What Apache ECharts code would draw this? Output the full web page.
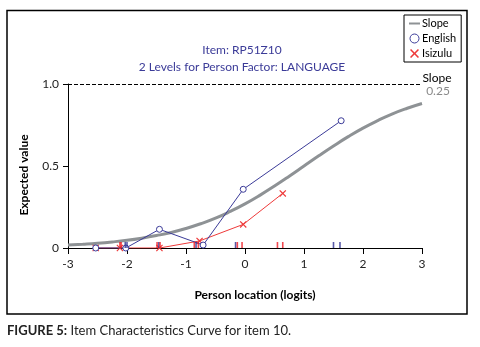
<!DOCTYPE html>
<html><head><meta charset="utf-8">
<script src="https://cdn.jsdelivr.net/npm/echarts@6/dist/echarts.min.js"></script>
<style>html,body{margin:0;padding:0;background:#fff}#c{width:480px;height:347px}</style>
</head><body><div id="c"></div>
<script>
const titleLines = ['Item: RP51Z10', '2 Levels for Person Factor: LANGUAGE'];
const caption = 'Item Characteristics Curve for item 10.';
const xTicks = [-3, -2, -1, 0, 1, 2, 3];
const slopeX = [-3,-2.75,-2.5,-2.25,-2,-1.75,-1.5,-1.25,-1,-0.75,-0.5,-0.25,0,0.25,0.5,0.75,1,1.25,1.5,1.75,2,2.25,2.5,2.75,3];
const slopeY = [0.018,0.023,0.029,0.037,0.047,0.060,0.076,0.095,0.119,0.148,0.182,0.223,0.269,0.321,0.378,0.438,0.500,0.562,0.622,0.679,0.731,0.777,0.818,0.852,0.881];
const englishX = [-2.53,-2.02,-1.45,-0.71,-0.03,1.63];
const englishY = [0,0,0.114,0.018,0.358,0.776];
const isizuluX = [-2.53,-2.12,-1.45,-0.77,-0.03,0.64];
const isizuluY = [0,0,0,0.043,0.144,0.333];
const englishRug = [-2.03,-2.0,-1.46,-0.83,-0.16,1.50,1.61];
const isizuluRug = [-2.12,-2.10,-1.49,-1.44,-0.86,-0.79,-0.13,-0.05,0.55,0.64];
const slopeValue = '0.25';

const FONT = 'Lato';
const BLUE = '#3b3b98', RED = '#ee3a3a', GRAY = '#8e9295';
const CROSS = 'path://M0,1.2L1.2,0L5,3.8L8.8,0L10,1.2L6.2,5L10,8.8L8.8,10L5,6.2L1.2,10L0,8.8L3.8,5Z';
const zip = (a, b) => a.map((v, i) => [v, b[i]]);

const chart = echarts.init(document.getElementById('c'), null, {renderer: 'canvas'});
chart.setOption({
  animation: false,
  textStyle: {fontFamily: FONT},
  grid: {left: 68, right: 58, top: 84, bottom: 99},
  title: {
    text: titleLines.join('\n'), left: 237, top: 37, textAlign: 'center',
    textStyle: {fontFamily: FONT, fontSize: 12, fontWeight: 'normal', color: BLUE, lineHeight: 17}
  },
  legend: {
    orient: 'vertical', left: 404, top: 15, padding: [3, 5, 3, 4], itemGap: 4,
    borderColor: '#000', borderWidth: 1, itemWidth: 11, itemHeight: 9,
    textStyle: {fontFamily: FONT, fontSize: 11, color: '#000', padding: [0, 0, 0, -3]},
    data: [
      {name: 'Slope', icon: 'inherit', itemStyle: {opacity: 0}},
      {name: 'English', icon: 'circle', lineStyle: {opacity: 0},
        itemStyle: {color: '#fff', borderColor: BLUE, borderWidth: 1}},
      {name: 'Isizulu', icon: CROSS, lineStyle: {opacity: 0}}
    ]
  },
  xAxis: {
    type: 'value', min: -3, max: 3, interval: 1,
    name: 'Person location (logits)', nameLocation: 'middle', nameGap: 41,
    nameTextStyle: {fontFamily: FONT, fontSize: 12, fontWeight: 'bold', color: '#000', padding: [0, 0, 0, 20]},
    axisLine: {onZero: false, lineStyle: {color: '#000', width: 1}},
    axisTick: {length: 6, lineStyle: {color: '#000'}},
    axisLabel: {margin: 10, fontSize: 12, color: '#222', fontFamily: FONT,
      formatter: v => xTicks.includes(v) ? String(v) : ''},
    splitLine: {show: false}
  },
  yAxis: {
    type: 'value', min: 0, max: 1, interval: 0.5,
    name: 'Expected value', nameLocation: 'middle', nameGap: 38, nameRotate: 90,
    nameTextStyle: {fontFamily: FONT, fontSize: 12, fontWeight: 'bold', color: '#000', padding: [0, 18, 0, 0]},
    axisLine: {show: true, onZero: false, lineStyle: {color: '#000', width: 1}},
    axisTick: {show: true, length: 5, lineStyle: {color: '#000'}},
    axisLabel: {margin: 9, fontSize: 12, color: '#222', fontFamily: FONT,
      formatter: v => v === 0 ? '0' : v.toFixed(1)},
    splitLine: {show: false}
  },
  graphic: [
    {type: 'rect', shape: {x: 7, y: 10.5, width: 460, height: 303.5}, style: {fill: 'none', stroke: '#000', lineWidth: 1.5}, silent: true},
    {type: 'text', x: 437, y: 78, style: {text: 'Slope', fontFamily: FONT, fontSize: 12, fill: '#000', align: 'center', verticalAlign: 'middle'}},
    {type: 'text', x: 438, y: 91, style: {text: slopeValue, fontFamily: FONT, fontSize: 12, fill: '#8a8a8a', align: 'center', verticalAlign: 'middle'}},
    {type: 'text', x: 7, y: 331, style: {
      text: '{b|FIGURE 5:} ' + caption,
      rich: {b: {fontFamily: FONT, fontSize: 13, fontWeight: 'bold', fill: '#222'}},
      fontFamily: FONT, fontSize: 13, fill: '#222', verticalAlign: 'middle'}}
  ],
  series: [
    {
      name: 'Slope', type: 'line', data: zip(slopeX, slopeY), smooth: true, symbol: 'none',
      lineStyle: {color: GRAY, width: 3}, itemStyle: {color: GRAY}, z: 1,
      markLine: {silent: true, symbol: 'none', label: {show: false},
        lineStyle: {color: '#000', type: [4, 2], width: 1}, data: [{yAxis: 1}]}
    },
    {
      name: 'English', type: 'line', data: zip(englishX, englishY), symbol: 'circle', symbolSize: 6,
      lineStyle: {color: BLUE, width: 1}, itemStyle: {color: '#fff', borderColor: BLUE, borderWidth: 1}, z: 3
    },
    {
      name: 'Isizulu', type: 'line', data: zip(isizuluX, isizuluY), symbol: CROSS, symbolSize: 7,
      lineStyle: {color: RED, width: 1}, itemStyle: {color: RED}, z: 2
    },
    {
      name: 'englishRug', type: 'scatter', data: englishRug.map(v => [v, 0]), symbol: 'rect',
      symbolSize: [1.6, 6], symbolOffset: [0, -3], itemStyle: {color: '#2e3192'}, clip: false, z: 4
    },
    {
      name: 'isizuluRug', type: 'scatter', data: isizuluRug.map(v => [v, 0]), symbol: 'rect',
      symbolSize: [1.6, 6], symbolOffset: [0, -3], itemStyle: {color: '#ed1c24'}, clip: false, z: 4
    }
  ]
});
</script></body></html>
